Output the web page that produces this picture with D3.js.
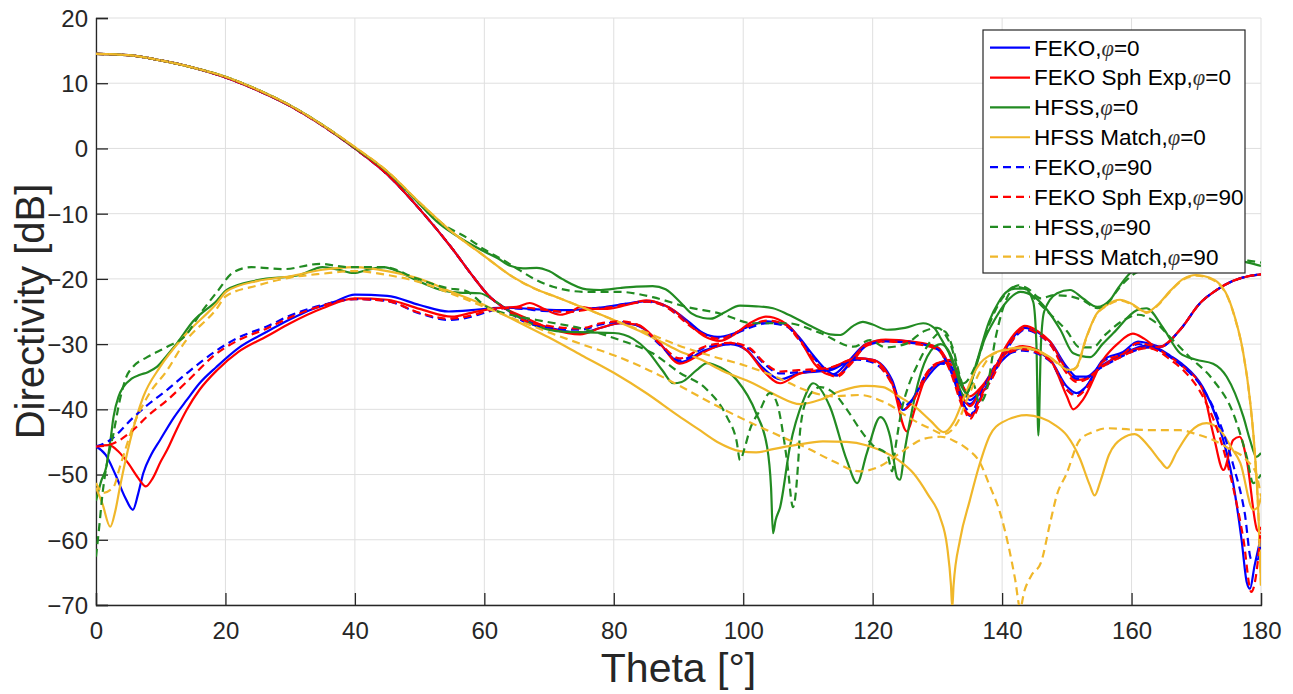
<!DOCTYPE html>
<html>
<head>
<meta charset="utf-8">
<script src="https://cdn.jsdelivr.net/npm/d3@7"></script>
<style>
  html, body { margin: 0; padding: 0; background: #ffffff; }
  svg { display: block; }
</style>
</head>
<body>
<svg id="chart" width="1293" height="694"></svg>
<script>
// Directivity cuts versus theta (degrees). Each series has two traces:
// the co-polar main-beam cut and the cross-polar cut, as [theta, dB] pairs.

const xTicks = [0, 20, 40, 60, 80, 100, 120, 140, 160, 180];
const yTicks = [-70, -60, -50, -40, -30, -20, -10, 0, 10, 20];

const seriesNames = [
  "FEKO,|=0", "FEKO Sph Exp,|=0", "HFSS,|=0", "HFSS Match,|=0",
  "FEKO,|=90", "FEKO Sph Exp,|=90", "HFSS,|=90", "HFSS Match,|=90"
];

// ---------- FEKO, phi = 0 ----------
const fekoP0Co = [[0,14.5],[5,14.3],[10,13.5],[15,12.4],[20,10.9],[25,8.9],[30,6.5],[35,3.5],[40,0],[45,-4],[50,-9.3],[55,-15.3],[58,-19.3],[61,-22.9],[63,-24.4],[66,-26.2],[70.5,-27.6],[74.8,-28.3],[78,-27.5],[81,-26.8],[83.6,-27.1],[87,-29.8],[90.2,-32.8],[94,-31],[98,-30],[100.6,-31],[103,-33.6],[105.7,-35.4],[108.5,-34.5],[113.4,-34],[117.6,-32.2],[120,-32.4],[123,-35.5],[124.7,-40.1],[127.3,-36.6],[130.4,-33],[131.9,-32.6],[134,-36.6],[135,-38.6],[137,-36.6],[140,-32.5],[143.2,-30.6],[147.4,-32.4],[150,-36.5],[151.5,-37.5],[153,-36.5],[155.6,-32.4],[158.7,-31.2],[161,-29.6],[163,-30],[164.5,-30.4],[167.5,-27.8],[170.6,-23.7],[173,-21.8],[175.7,-20.3],[178,-19.6],[180,-19.3]];
const fekoP0X = [[0,-45.7],[1.5,-47],[3,-50],[4.5,-53.5],[5.7,-55.4],[6.5,-53],[7.3,-49.8],[8.5,-47],[9.9,-44.7],[12,-41.3],[14,-38.6],[16,-36],[18.6,-33.5],[22,-30.6],[26.4,-28.1],[30,-26.2],[33,-24.8],[36.6,-23.6],[40,-22.4],[45,-22.6],[50,-24],[54.5,-25],[58,-24.8],[61,-24.5],[63,-24.4],[65.5,-24.5],[69,-24.7],[72.7,-24.8],[75.8,-24.6],[78.9,-24.3],[82,-23.8],[85.1,-23.4],[87.5,-23.9],[89.2,-24.8],[91.5,-26.5],[93.8,-28.3],[96,-28.9],[98.4,-28.4],[101,-27.2],[103.7,-26.5],[106.5,-26.9],[108.5,-28.8],[110.8,-31.7],[112.9,-34],[114,-34.6],[116,-32.9],[119,-30],[122,-29.4],[125.8,-29.6],[127.3,-29.9],[130,-30.5],[131.9,-33.5],[134,-38.6],[135,-39.2],[137,-36.6],[138.6,-34.5],[140.5,-30.8],[142.3,-28.3],[143.5,-27.5],[145.5,-28.2],[147.4,-29.6],[150,-33.5],[151.5,-35],[153,-35],[155,-33.5],[157.7,-32],[160,-30.9],[162.5,-30.2],[164,-30.6],[166,-31.8],[168,-33.2],[171,-36.6],[173.2,-41.6],[175.7,-51.3],[177,-60],[177.8,-66.5],[178.3,-67.5],[179,-64],[180,-59.6]];

// ---------- FEKO spherical expansion, phi = 0 ----------
const fekoSphP0Co = [[0,14.5],[5,14.3],[10,13.5],[15,12.4],[20,10.9],[25,8.9],[30,6.5],[35,3.5],[40,0],[45,-4],[50,-9.3],[55,-15.3],[58,-19.3],[61,-22.9],[63,-24.4],[66,-25.8],[70.5,-27.7],[74.8,-28.5],[78,-27.5],[81,-26.8],[83.6,-27],[87,-29.8],[90.2,-33],[94,-31.2],[98,-29.8],[100.6,-31],[103,-34],[105.7,-36],[108.5,-34.6],[113.4,-33.7],[117.6,-32.2],[120,-32.4],[123,-36],[125.3,-43.4],[126.5,-40],[128,-35.5],[130.4,-32.8],[131.9,-32.4],[134,-36.6],[135,-38],[137,-36.3],[140,-32],[143.2,-30.3],[147.4,-32.4],[150,-38],[151,-40],[152.5,-38.5],[155.6,-32.4],[158,-29.8],[160.2,-28.4],[162,-29.2],[164,-30.5],[167.5,-27.8],[170.6,-23.7],[173,-21.8],[175.7,-20.3],[178,-19.6],[180,-19.3]];
const fekoSphP0X = [[0,-45.7],[2,-45.5],[3.5,-46.5],[5,-48.3],[6.5,-50.5],[7.7,-51.8],[8.8,-50.5],[10,-48],[11,-46.2],[12.5,-43],[14,-40.1],[16,-37],[18.7,-34],[22,-31.2],[26.4,-28.8],[30,-26.8],[35,-24.5],[40,-23],[45,-23.2],[50,-24.6],[55,-25.8],[58,-25.2],[61,-24.6],[63,-24.4],[65,-24.3],[67,-23.7],[69,-24.5],[71.7,-25.5],[73.5,-25],[74.8,-24.3],[77,-24.6],[79,-24.6],[82,-24],[85,-23.3],[87.5,-23.9],[89.5,-25],[91.5,-26.8],[94,-28.8],[96.4,-29.5],[98.5,-28.6],[101,-26.8],[103.5,-25.8],[106,-26.5],[108.5,-28.9],[111,-33],[113,-34.6],[114.5,-34.8],[116.5,-32.8],[119,-30],[122,-29.3],[126,-29.6],[130,-30.5],[132,-33.5],[134,-38.3],[135,-39.5],[137,-36.5],[138.6,-34.3],[140.5,-30.5],[142.3,-28],[143.5,-27.2],[145.5,-28],[147.4,-29.6],[150,-34],[151.5,-35.5],[153,-35.3],[155,-33.7],[157.7,-32],[160,-31],[162.5,-30.5],[164,-30.8],[166,-32],[168,-33.5],[171,-37],[172.6,-43.7],[174.2,-49.3],[175.7,-44.7],[176.7,-44.2],[177.8,-47.8],[179.4,-58.5],[180,-59]];

// ---------- HFSS, phi = 0 ----------
const hfssP0Co = [[0,14.5],[5,14.3],[10,13.5],[15,12.4],[20,11],[25,9],[30,6.6],[35,3.6],[40,0.1],[45,-3.6],[49,-7.5],[53,-11.5],[56.7,-14],[60,-15.8],[62,-16.8],[64,-18],[66,-18.4],[68.1,-18.3],[70,-18.8],[72,-20],[75.8,-21.6],[78,-21.7],[81,-21.4],[83.5,-21.2],[86,-21.1],[88,-21.6],[90.2,-23.5],[92,-25.3],[93.8,-26],[95,-26.1],[97,-25.2],[99.5,-24.1],[102,-24.2],[104.6,-24.5],[107,-25.5],[110.8,-27.4],[113.4,-28.5],[115,-28.6],[117,-27.2],[118.5,-26.6],[120,-27],[122.2,-27.8],[125,-27.5],[127.8,-26.8],[129.5,-27.5],[130.4,-28.9],[132.4,-32.9],[133.5,-37],[134.3,-38],[135.5,-35],[137,-30],[139,-26],[140.7,-23.5],[142.8,-22],[145,-22.8],[147,-24.8],[149,-27.8],[151,-31.4],[153.6,-32],[155.5,-30],[157.2,-28.3],[160.8,-24.8],[162.3,-24.5],[164.8,-27.4],[167.5,-31.4],[170,-32.4],[172.6,-33],[174.7,-35],[177.3,-41.2],[178.3,-44.7],[179.3,-47.3],[180,-46.7]];
const hfssP0X = [[0,-54],[0.8,-51],[1.6,-48.8],[2.2,-45],[2.7,-41.2],[3.5,-38],[4.2,-36.6],[5.5,-35.3],[6.8,-34.7],[8,-34.3],[9.4,-33.5],[11,-31.7],[12.5,-29.9],[15,-26.5],[18.7,-23.3],[20.2,-21.7],[25,-20.2],[31.5,-19.4],[35,-18.2],[37.5,-18.6],[39.8,-19.1],[42,-18.6],[44.4,-18.2],[47,-19],[49.5,-20.2],[53.7,-21.8],[56,-22.1],[59.3,-22.2],[61.5,-23.3],[64.4,-25.3],[68,-27.2],[72.2,-28.1],[76,-28.2],[80,-28.3],[83,-29.2],[85.1,-30.9],[87.5,-34],[89.2,-36],[90.5,-35.8],[92.8,-34],[94.4,-32.9],[96.5,-33.6],[99,-35.5],[102,-40.6],[103.7,-45.8],[104.3,-52],[104.6,-59],[105,-57],[105.7,-55],[107.2,-45.8],[109.3,-38.6],[110.8,-36],[113.4,-39.6],[116,-47.8],[117.6,-51.3],[119.1,-46.7],[121.2,-41.2],[122.7,-44.2],[123.8,-50.5],[124.2,-50.8],[125,-46],[125.8,-41.6],[127,-36],[129,-31],[130.5,-30],[132,-31.5],[133.5,-36],[134.5,-37.5],[136,-33],[138,-26.5],[139.5,-23.5],[140.7,-22],[142,-21.5],[143.5,-21.5],[144.8,-23.5],[145.3,-30],[145.6,-44],[146,-30],[146.5,-25],[148.5,-22.2],[150.5,-21.7],[152.5,-23],[154.7,-24.3],[156.7,-23.2],[158,-21.3],[159.8,-19.1],[162,-18],[165,-17.4],[170,-17],[175,-17.1],[178,-17.5],[180,-18]];

// ---------- HFSS matched, phi = 0 ----------
const hfssMatchP0Co = [[0,14.5],[5,14.3],[10,13.5],[15,12.4],[20,11],[25,9],[30,6.6],[35,3.6],[40,0.2],[45,-3.5],[50,-8.3],[55,-12.8],[60,-16.5],[64.4,-19.7],[68,-21.6],[71.2,-22.8],[75,-24.3],[80,-26.3],[84,-28],[87.6,-29.8],[90,-31],[93.3,-32.3],[97,-34.2],[101.5,-36],[105,-37.8],[108.8,-39.2],[112,-38.5],[115,-37.2],[119,-36.4],[121.6,-36.6],[124,-38],[126.8,-39.8],[129,-41.8],[131,-43.5],[132.5,-42],[134,-38.5],[136,-33.8],[138.5,-31.5],[141.2,-30.7],[143.2,-30.5],[145.5,-31],[147.4,-32],[149,-33.2],[150.5,-34],[151.5,-33.5],[153,-29],[154.5,-25.5],[156.2,-24],[158.2,-23.2],[160,-23.8],[162.3,-25.1],[164,-24],[166,-21.8],[168,-20],[170,-19.4],[172,-19.8],[174.5,-22],[176,-26],[177.2,-31],[178.3,-38.6],[179,-46],[179.6,-56],[180,-67]];
const hfssMatchP0X = [[0,-52],[1,-54.5],[2.2,-58],[3,-55.5],[3.7,-51.9],[5.3,-44.7],[7.3,-38.1],[9.9,-33.5],[13.5,-28.9],[18.7,-23.7],[20.2,-21.9],[25,-20.3],[30,-19.6],[35,-18.6],[40,-18.2],[45,-18.8],[50,-20],[55,-22],[60,-24],[65,-26.5],[70,-29],[75,-31.7],[80,-34.4],[85,-37.5],[90,-41],[93,-43],[96,-45],[99.5,-46.4],[102,-46.6],[104.6,-46.1],[108,-45.5],[112.3,-44.9],[116,-45],[119,-45.5],[121,-46.2],[124,-47.8],[126.3,-49.8],[128.5,-53],[130.4,-56.5],[131.5,-61],[132.1,-67],[132.3,-70.5],[132.5,-67],[133.5,-60],[135,-54],[136.5,-48.5],[138.1,-44],[140,-42],[143.8,-40.9],[146,-41.3],[148,-42.3],[150,-44],[152,-47.5],[153.5,-51.5],[154.3,-53.2],[155.2,-51],[156.5,-47],[158.5,-44.5],[160.5,-43.8],[162.5,-45.5],[164.5,-48],[165.5,-49],[167,-46.5],[169,-43.5],[171.6,-42.1],[173.7,-43.2],[175.5,-46],[176.8,-48.2],[178.8,-55.4],[179.5,-55],[180,-53.5]];

// ---------- FEKO, phi = 90 ----------
const fekoP90Co = [[0,14.5],[5,14.3],[10,13.5],[15,12.4],[20,10.9],[25,8.9],[30,6.5],[35,3.5],[40,0],[45,-4],[50,-9.3],[55,-15.3],[58,-19.3],[61,-22.9],[63,-24.4],[66,-26.5],[70.5,-27.5],[74.8,-27.8],[78,-27],[81,-26.6],[84,-27.3],[87,-30],[90.2,-32.5],[94,-30.6],[98,-30],[101,-30.8],[103,-32.8],[105.7,-34.5],[108.5,-34.3],[113.4,-33.8],[117.6,-32.4],[120,-32.8],[123,-36],[124.7,-39.5],[126.5,-38],[128,-35],[130.4,-33],[131.9,-33.2],[134,-39],[135,-41],[136.5,-38],[140,-32],[143.2,-31],[147.4,-32.6],[150,-37],[151.5,-37.8],[153,-36.5],[155.6,-32.6],[158.7,-31.6],[161,-30],[163,-30.3],[164.5,-30.4],[167.5,-27.8],[170.6,-23.7],[173,-21.8],[175.7,-20.3],[178,-19.6],[180,-19.3]];
const fekoP90X = [[0,-45.7],[2.2,-44.7],[5.7,-41.3],[8,-39.3],[11,-37],[14,-34.5],[18.6,-31],[22,-29],[26.4,-27.3],[30,-25.6],[35,-24],[40,-23.1],[45,-23.4],[50,-25.3],[54.5,-26.3],[58,-25.8],[61,-24.9],[63,-24.5],[66,-24.6],[69,-24.9],[72.7,-25],[76,-24.6],[79,-24.3],[82,-23.8],[85.1,-23.5],[87.5,-24],[89.5,-25.2],[91.5,-26.8],[94,-28.5],[96.4,-29.1],[98.5,-28.5],[101,-27.5],[103.7,-26.8],[106.5,-27.2],[108.5,-29],[111,-32.2],[113,-34.3],[114.5,-34.8],[116.5,-33],[119,-30.3],[122,-29.6],[126,-29.8],[130,-30.8],[132,-34],[134,-39.3],[135.5,-40.5],[137,-37.5],[138.6,-34.8],[140.5,-31.2],[142.3,-28.6],[143.5,-27.8],[145.5,-28.5],[147.4,-30],[150,-34],[151.5,-35.3],[153,-35.2],[155,-33.8],[157.7,-32.3],[160,-31.2],[162.5,-30.5],[164,-30.8],[166,-32],[168,-33.5],[171,-36.8],[173.2,-41],[175.7,-48.5],[177.5,-56],[178.5,-63],[179.5,-63],[180,-60]];

// ---------- FEKO spherical expansion, phi = 90 ----------
const fekoSphP90Co = [[0,14.5],[5,14.3],[10,13.5],[15,12.4],[20,10.9],[25,8.9],[30,6.5],[35,3.5],[40,0],[45,-4],[50,-9.3],[55,-15.3],[58,-19.3],[61,-22.9],[63,-24.4],[66,-26.3],[70.5,-27.3],[74.8,-27.6],[78,-26.8],[81,-26.5],[84,-27.2],[87,-29.8],[90.2,-32.2],[94,-30.4],[98,-29.8],[101,-30.6],[103,-32.6],[105.7,-34.2],[108.5,-34],[113.4,-33.6],[117.6,-32.2],[120,-32.6],[123,-36.2],[124.7,-40],[126.5,-38.3],[128,-35],[130.4,-32.8],[131.9,-33],[134,-39.5],[135,-41.5],[136.5,-38.5],[140,-32],[143.2,-30.8],[147.4,-32.5],[150,-37],[151.5,-38],[153,-36.8],[155.6,-32.7],[158.7,-31.5],[161,-29.8],[163,-30.2],[164.5,-30.4],[167.5,-27.8],[170.6,-23.7],[173,-21.8],[175.7,-20.3],[178,-19.6],[180,-19.3]];
const fekoSphP90X = [[0,-45.7],[2.2,-45.4],[5.7,-43.2],[8,-41],[11,-38.6],[14,-35.8],[18.7,-31.4],[22,-29.4],[26.4,-27.6],[30,-25.9],[35,-24.1],[40,-23.1],[45,-23.4],[50,-25.2],[54.5,-26.1],[58,-25.6],[61,-24.8],[63,-24.5],[66,-24.4],[69,-24.7],[72.7,-25.1],[76,-24.7],[79,-24.4],[82,-23.9],[85.1,-23.5],[87.5,-24],[89.5,-25.3],[91.5,-27],[94,-28.6],[96.4,-29.2],[98.5,-28.4],[101,-27.2],[103.7,-26.4],[106.5,-27],[108.5,-29.2],[111,-32.5],[113,-34.5],[114.5,-35],[116.5,-33.2],[119,-30.3],[122,-29.6],[126,-29.9],[130,-30.8],[132,-34.2],[134,-39.8],[135.5,-41],[137,-37.8],[138.6,-35],[140.5,-31.2],[142.3,-28.5],[143.5,-27.6],[145.5,-28.4],[147.4,-30],[150,-34.5],[151.5,-35.8],[153,-35.4],[155,-33.8],[157.7,-32.3],[160,-31.2],[162.5,-30.6],[164,-31],[166,-32.4],[168,-34],[171,-38],[173.2,-43],[175.7,-52],[177.3,-60],[178.5,-68],[179.3,-65],[180,-58]];

// ---------- HFSS, phi = 90 ----------
const hfssP90Co = [[0,14.5],[5,14.3],[10,13.5],[15,12.4],[20,11],[25,9],[30,6.6],[35,3.6],[40,0.1],[45,-3.6],[49,-7.5],[53,-11.2],[57.8,-14],[60,-15.5],[62.9,-17.1],[65.5,-18.7],[68.1,-20.2],[70.6,-21.2],[75.8,-22],[81,-22],[86,-22.8],[91.3,-24.3],[96.4,-25.3],[101.5,-26.8],[106.8,-26.8],[111.9,-28.3],[117,-30.4],[119.6,-29.4],[122,-30.5],[125,-30],[128,-28],[130,-27.5],[132,-30],[134,-36],[136,-33],[138,-27],[140,-23],[142,-21.2],[143.5,-21.5],[145,-23],[147,-25],[150,-28],[152,-30.5],[154,-30.5],[156,-28.5],[158.5,-26.5],[161,-25.5],[163.5,-26.5],[166,-29],[169,-32],[172.6,-35.5],[175.7,-40.6],[177.8,-47.3],[178.8,-51.3],[179.4,-50.8],[180,-50]];
const hfssP90X = [[0,-62.6],[0.5,-58],[1,-53],[1.6,-48.8],[2.7,-43.7],[3.7,-38.5],[4.7,-35],[5.7,-33.5],[7.9,-32],[11,-30.4],[14,-28.5],[16,-25.5],[18.7,-22],[21.2,-19],[24,-18.2],[29,-18.5],[34.6,-17.7],[39,-18.2],[44.4,-18.2],[49.5,-19.9],[54.2,-21.4],[57,-21.8],[60.4,-24.3],[64,-25.5],[68.1,-26.3],[75.8,-27.8],[81,-29.4],[86,-31.4],[90.2,-34.4],[94.4,-37],[97.5,-41.2],[99,-45],[99.5,-47.8],[100.2,-46],[101,-43.2],[102.6,-40.1],[104.1,-37.5],[105.2,-39],[106.2,-44],[106.8,-48.2],[107.7,-55],[108.1,-53],[108.5,-48],[108.8,-43.2],[109.8,-38.6],[111.9,-36.6],[114,-37.5],[116,-40],[118,-43],[120,-45.5],[122.3,-47],[123,-49.5],[123.5,-46],[124.5,-40],[125.5,-36.5],[127,-33],[129,-29.5],[131,-28],[132.5,-31],[133.5,-35],[134.5,-37.5],[135.5,-36],[136.5,-39],[137.5,-37.5],[139,-29],[140.7,-23],[142.5,-21],[144,-21.5],[146,-23],[148,-22.5],[150,-22.6],[152.5,-23.3],[154.7,-24.5],[156.5,-23.5],[158,-21.5],[160,-19.5],[163,-18.2],[168,-17.3],[175,-17],[178,-17.2],[180,-17.5]];

// ---------- HFSS matched, phi = 90 ----------
const hfssMatchP90Co = [[0,14.5],[5,14.3],[10,13.5],[15,12.4],[20,11],[25,9],[30,6.6],[35,3.6],[40,0.2],[45,-3.5],[50,-8.3],[55,-12.8],[60,-16.5],[64.4,-19.7],[68,-21.6],[71.2,-22.8],[75,-24.3],[80,-26.3],[85,-28.2],[90,-30.2],[95,-31.8],[100,-33.2],[105,-35],[110,-37.2],[114,-38],[118,-37.8],[122,-39],[126,-41.5],[129,-43],[131,-43.8],[133,-42.2],[135,-37.5],[137,-33.5],[138.5,-31.6],[141.2,-30.8],[143.2,-30.6],[145.5,-31.1],[147.4,-32.1],[149,-33.3],[150.5,-34.1],[151.5,-33.6],[153,-29.1],[154.5,-25.6],[156.2,-24.1],[158.2,-23.3],[160,-23.9],[162.3,-25.2],[164,-24.1],[166,-21.9],[168,-20.1],[170,-19.5],[172,-19.9],[174.5,-22.1],[176,-26.1],[177.2,-31.1],[178.3,-38.7],[179,-46.1],[179.6,-56.1],[180,-67]];
const hfssMatchP90X = [[0,-51.3],[1.1,-52.8],[2.7,-51.9],[3.7,-48.8],[5.7,-42.7],[8.3,-37.5],[11,-34],[13.5,-30],[18.7,-24.5],[20,-22.7],[25,-21],[30,-19.8],[35,-19.2],[40,-18.8],[45,-19.4],[50,-20.5],[55,-22.3],[60,-24.3],[65,-26.3],[70,-28.2],[75,-30],[80,-31.7],[85,-33.8],[90,-36.3],[95,-39],[100,-41.5],[105,-43.8],[110,-46],[114,-48],[118,-49.5],[121,-48.8],[123.5,-47.2],[126,-45.5],[128,-44.5],[130.5,-44.2],[132.5,-44.8],[134.5,-46],[136.6,-48.2],[138,-51.5],[139.7,-55.9],[141,-61],[142,-66],[142.8,-70.5],[143.4,-68],[144.5,-65.5],[146,-63.5],[147.4,-57.5],[148.5,-53],[149.9,-50],[152,-44.7],[154,-43.5],[156.2,-42.9],[160,-43.1],[164,-43.2],[167.5,-43.2],[170,-43.8],[172.6,-44.7],[175,-46],[177.8,-47.8],[179.3,-50],[180,-53.4]];

// Series table (drawing order follows the legend)
const series = [
  { name: seriesNames[0], color: "#0000ff", dash: null,  traces: [fekoP0Co, fekoP0X] },
  { name: seriesNames[1], color: "#ff0000", dash: null,  traces: [fekoSphP0Co, fekoSphP0X] },
  { name: seriesNames[2], color: "#228b22", dash: null,  traces: [hfssP0Co, hfssP0X] },
  { name: seriesNames[3], color: "#f0b72a", dash: null,  traces: [hfssMatchP0Co, hfssMatchP0X] },
  { name: seriesNames[4], color: "#0000ff", dash: "8,5", traces: [fekoP90Co, fekoP90X] },
  { name: seriesNames[5], color: "#ff0000", dash: "8,5", traces: [fekoSphP90Co, fekoSphP90X] },
  { name: seriesNames[6], color: "#228b22", dash: "8,5", traces: [hfssP90Co, hfssP90X] },
  { name: seriesNames[7], color: "#f0b72a", dash: "8,5", traces: [hfssMatchP90Co, hfssMatchP90X] }
];

const W = 1293, H = 694;
const margin = { left: 96, top: 18, right: 32, bottom: 89 };
const axisColor = "#262626";
const fontFamily = "'Liberation Sans', Arial, Helvetica, sans-serif";

const svg = d3.select("#chart");
const x = d3.scaleLinear().domain([0, 180]).range([margin.left, W - margin.right]);
const y = d3.scaleLinear().domain([-70, 20]).range([H - margin.bottom, margin.top]);

// clip region for the traces
svg.append("defs").append("clipPath").attr("id", "plotClip")
  .append("rect")
  .attr("x", x(0)).attr("y", y(20))
  .attr("width", x(180) - x(0)).attr("height", y(-70) - y(20));

// grid
const grid = svg.append("g").attr("class", "grid");
grid.selectAll("line.vx").data(xTicks).join("line")
  .attr("x1", d => x(d)).attr("x2", d => x(d))
  .attr("y1", y(-70)).attr("y2", y(20))
  .attr("stroke", "#dfdfdf").attr("stroke-width", 1);
grid.selectAll("line.hy").data(yTicks).join("line")
  .attr("x1", x(0)).attr("x2", x(180))
  .attr("y1", d => y(d)).attr("y2", d => y(d))
  .attr("stroke", "#dfdfdf").attr("stroke-width", 1);

// axes (inward ticks)
const xAxis = d3.axisBottom(x).tickValues(xTicks).tickSize(-12).tickFormat(d3.format("d"));
const yAxis = d3.axisLeft(y).tickValues(yTicks).tickSize(-12).tickFormat(d3.format("d"));

const gx = svg.append("g").attr("transform", `translate(0,${y(-70)})`).call(xAxis);
const gy = svg.append("g").attr("transform", `translate(${x(0)},0)`).call(yAxis);
[gx, gy].forEach(g => {
  g.select(".domain").attr("stroke", axisColor).attr("stroke-width", 1.3);
  g.selectAll(".tick line").attr("stroke", axisColor).attr("stroke-width", 1.3);
  g.selectAll(".tick text").attr("fill", axisColor)
    .style("font-family", fontFamily).style("font-size", "24px");
});
gx.selectAll(".tick text").attr("y", 34).attr("dy", 0);
gy.selectAll(".tick text").attr("x", -8).attr("dy", "0.35em");

// traces
const line = d3.line()
  .x(d => x(d[0])).y(d => y(d[1]))
  .curve(d3.curveMonotoneX);

const plot = svg.append("g").attr("clip-path", "url(#plotClip)");
series.forEach(s => {
  s.traces.forEach(t => {
    plot.append("path")
      .datum(t)
      .attr("d", line)
      .attr("fill", "none")
      .attr("stroke", s.color)
      .attr("stroke-width", 2.2)
      .attr("stroke-linejoin", "round")
      .attr("stroke-dasharray", s.dash);
  });
});

// axis titles
svg.append("text")
  .attr("x", (x(0) + x(180)) / 2).attr("y", 682)
  .attr("text-anchor", "middle")
  .attr("fill", axisColor)
  .style("font-family", fontFamily).style("font-size", "41px")
  .text("Theta [°]");
svg.append("text")
  .attr("transform", `translate(44,${(y(20) + y(-70)) / 2}) rotate(-90)`)
  .attr("text-anchor", "middle")
  .attr("fill", axisColor)
  .style("font-family", fontFamily).style("font-size", "40px")
  .text("Directivity [dB]");

// legend
const lg = svg.append("g").attr("class", "legend");
lg.append("rect")
  .attr("x", 983).attr("y", 30).attr("width", 262).attr("height", 243)
  .attr("fill", "#ffffff").attr("stroke", axisColor).attr("stroke-width", 1.2);
series.forEach((s, i) => {
  const cy = 47.7 + i * 29.85;
  lg.append("line")
    .attr("x1", 990).attr("x2", 1030).attr("y1", cy).attr("y2", cy)
    .attr("stroke", s.color).attr("stroke-width", 2.2)
    .attr("stroke-dasharray", s.dash);
  const parts = s.name.split("|");
  const t = lg.append("text")
    .attr("x", 1034).attr("y", cy).attr("dy", "0.35em")
    .attr("fill", "#000000")
    .style("font-family", fontFamily).style("font-size", "22.5px");
  t.append("tspan").text(parts[0]);
  t.append("tspan").text("\u03C6")
    .style("font-family", "'Liberation Serif', 'DejaVu Serif', serif")
    .style("font-style", "italic").attr("fill", "#333333");
  t.append("tspan").text(parts[1]);
});
</script>
</body>
</html>
